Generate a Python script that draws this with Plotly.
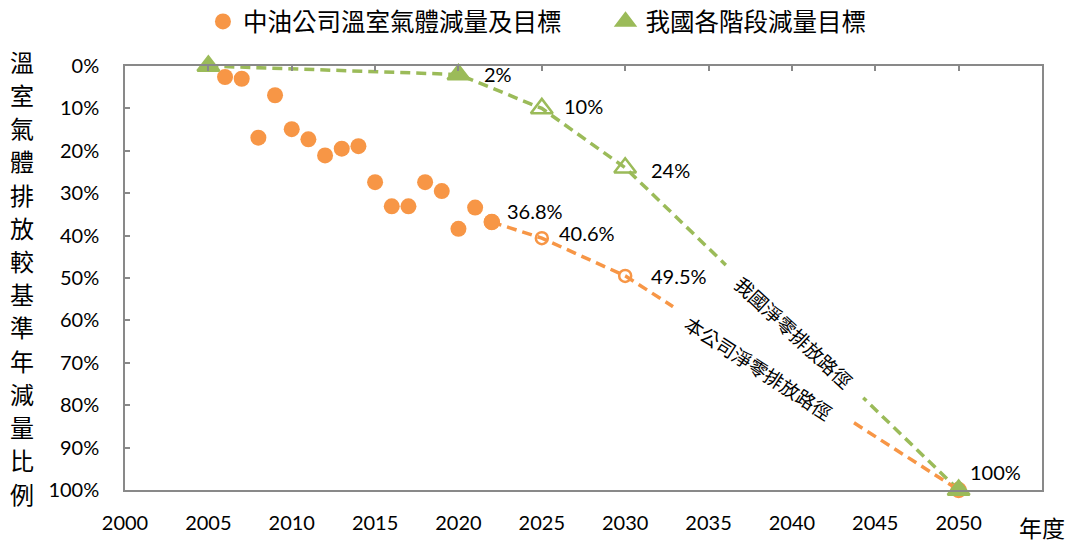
import plotly.graph_objects as go

# ---------------- data ----------------
actual_years = [2006, 2007, 2008, 2009, 2010, 2011, 2012, 2013, 2014, 2015,
                2016, 2017, 2018, 2019, 2020, 2021, 2022]
actual_reduction = [2.6, 3.0, 16.9, 6.9, 14.9, 17.3, 21.1, 19.5, 18.9, 27.4,
                    33.1, 33.1, 27.4, 29.5, 38.4, 33.4, 36.8]

company_years = [2022, 2025, 2030, 2050]
company_target = [36.8, 40.6, 49.5, 100]
company_symbols = ["circle", "circle-open", "circle-open", "circle"]

nation_years = [2005, 2020, 2025, 2030, 2050]
nation_target = [0, 2, 10, 24, 100]
nation_symbols = ["triangle-up", "triangle-up", "triangle-up-open",
                  "triangle-up-open", "triangle-up"]

x_ticks = [2000, 2005, 2010, 2015, 2020, 2025, 2030, 2035, 2040, 2045, 2050]
x_tick_text = [str(v) for v in x_ticks]
y_ticks = [0, 10, 20, 30, 40, 50, 60, 70, 80, 90, 100]
y_tick_text = [f"{v}%" for v in y_ticks]

legend_company = "中油公司溫室氣體減量及目標"
legend_nation = "我國各階段減量目標"
y_title = "溫室氣體排放較基準年減量比例"
x_title = "年度"
path_nation = "我國淨零排放路徑"
path_company = "本公司淨零排放路徑"

ORANGE = "#F79646"
GREEN = "#9BBB59"
AXIS = "#898989"
NUM_FONT = "Lato, Noto Sans CJK TC, sans-serif"
CJK_FONT = "Noto Sans CJK TC, sans-serif"

fig = go.Figure()

# dashed paths
fig.add_trace(go.Scatter(x=nation_years, y=nation_target, mode="lines",
                         line=dict(color=GREEN, width=3.5, dash="10px,6px"),
                         showlegend=False, hoverinfo="skip", cliponaxis=False))
fig.add_trace(go.Scatter(x=company_years, y=company_target, mode="lines",
                         line=dict(color=ORANGE, width=3.5, dash="10px,6px"),
                         showlegend=False, hoverinfo="skip", cliponaxis=False))

# company actual points
fig.add_trace(go.Scatter(x=actual_years, y=actual_reduction, mode="markers",
                         name=legend_company, legend="legend", cliponaxis=False,
                         marker=dict(color=ORANGE, size=16, symbol="circle",
                                     opacity=1)))
# company target points
fig.add_trace(go.Scatter(x=company_years, y=company_target, mode="markers",
                         showlegend=False, cliponaxis=False,
                         marker=dict(color=ORANGE, size=[14, 12, 12, 14],
                                     symbol=company_symbols, opacity=1,
                                     line=dict(color=ORANGE, width=2.5))))
# nation targets
fig.add_trace(go.Scatter(x=nation_years, y=nation_target, mode="markers",
                         name=legend_nation, legend="legend2", cliponaxis=False,
                         marker=dict(color=GREEN, size=[19, 19, 19, 19, 19],
                                     symbol=nation_symbols, opacity=1,
                                     line=dict(color=GREEN, width=2.5))))
# invisible trace for top axis ticks
fig.add_trace(go.Scatter(x=[], y=[], xaxis="x2", showlegend=False,
                         hoverinfo="skip"))

# value labels
labels = [
    (2020, 2, "2%", 24, 0),
    (2025, 10, "10%", 20, 2),
    (2030, 24, "24%", 24, -2),
    (2022, 36.8, "36.8%", 13, 11),
    (2025, 40.6, "40.6%", 15, 5),
    (2030, 49.5, "49.5%", 24, 0),
    (2050, 100, "100%", 9, 18),
]
for lx, ly, lt, xs, ys in labels:
    fig.add_annotation(x=lx, y=ly, text=lt, showarrow=False, xanchor="left",
                       yanchor="middle", xshift=xs, yshift=ys,
                       font=dict(family=NUM_FONT, size=20, color="#000"))

# rotated path labels
fig.add_annotation(x=2040.1, y=62.7, text="\u3000" + path_nation + "\u3000",
                   showarrow=False, textangle=43, bgcolor="white", borderpad=0,
                   font=dict(family=CJK_FONT, size=19, color="#000"))
fig.add_annotation(x=2038.0, y=71.2, text="\u3000" + path_company + "\u3000",
                   showarrow=False, textangle=33, bgcolor="white", borderpad=0,
                   font=dict(family=CJK_FONT, size=19, color="#000"))

# y title stacked characters (paper coordinates)
n = len(y_title)
top_px, bottom_px, plot_top, plot_h = 62.0, 493.0, 66.7, 423.3
step_px = (bottom_px - top_px) / (n - 1)
for i, ch in enumerate(y_title):
    py = 1 - (top_px + i * step_px - plot_top) / plot_h
    fig.add_annotation(x=-0.112, xref="paper", y=py, yref="paper",
                       text=ch, showarrow=False, xanchor="center",
                       yanchor="middle",
                       font=dict(family=CJK_FONT, size=24, color="#000"))

# x title
fig.add_annotation(x=2055, y=0, xref="x", yref="paper", text=x_title,
                   showarrow=False, xanchor="center", yanchor="top", yshift=-18,
                   font=dict(family=CJK_FONT, size=23, color="#000"))

legend_common = dict(orientation="h", xanchor="left", y=1.105, yanchor="middle",
                     font=dict(family=CJK_FONT, size=24.5, color="#000"),
                     bgcolor="rgba(0,0,0,0)")

fig.update_layout(
    width=1072, height=553,
    margin=dict(l=125, r=30, t=66, b=63, autoexpand=False),
    paper_bgcolor="white", plot_bgcolor="white",
    showlegend=True,
    legend=dict(x=0.085, **legend_common),
    legend2=dict(x=0.524, **legend_common),
    xaxis=dict(range=[2000, 2055], tickvals=x_ticks, ticktext=x_tick_text,
               showline=True, linecolor=AXIS, linewidth=1.5, mirror=True,
               ticks="", showgrid=False, zeroline=False,
               ticklabelstandoff=14,
               tickfont=dict(family=NUM_FONT, size=20, color="#000")),
    xaxis2=dict(range=[2000, 2055], tickvals=x_ticks, overlaying="x",
                side="top", anchor="y", ticks="inside", ticklen=5,
                tickcolor=AXIS, tickwidth=1.5, showticklabels=False,
                showline=False, showgrid=False, zeroline=False),
    yaxis=dict(range=[100, 0], tickvals=y_ticks, ticktext=y_tick_text,
               showline=True, linecolor=AXIS, linewidth=1.5, mirror=True,
               ticks="inside", ticklen=5, tickcolor=AXIS, tickwidth=1.5,
               showgrid=False, zeroline=False, ticklabelstandoff=20,
               tickfont=dict(family=NUM_FONT, size=20, color="#000")),
)

fig.write_html("out.html")
